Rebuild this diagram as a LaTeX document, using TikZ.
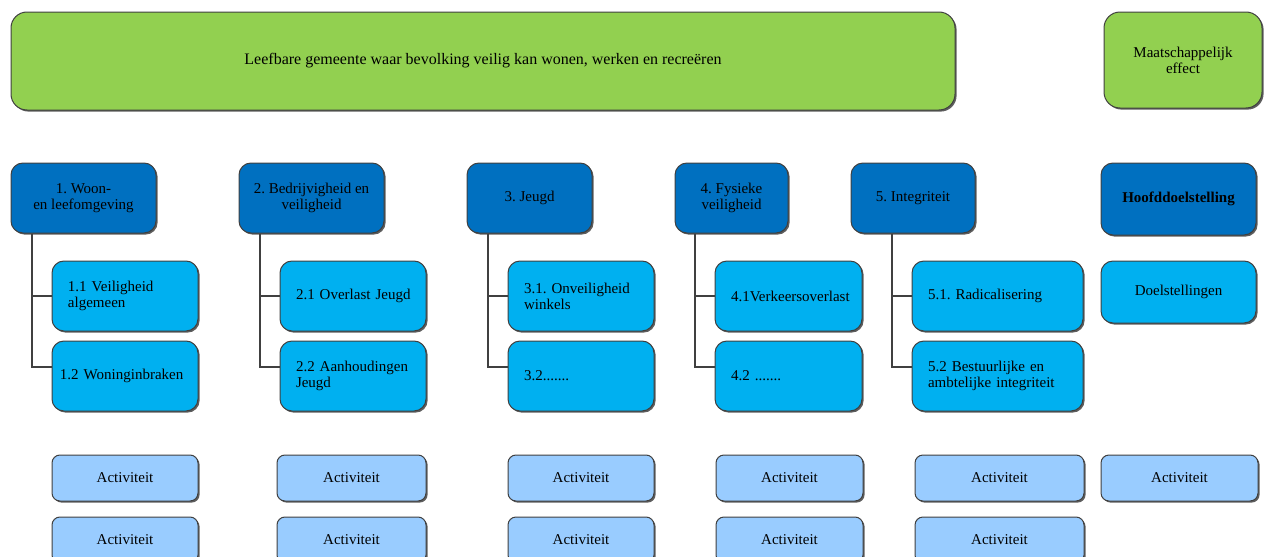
\documentclass[tikz,border=0pt]{standalone}
\usepackage{fontspec}
\setmainfont{Liberation Serif}
\frenchspacing
\usetikzlibrary{shadows}
\definecolor{effectgreen}{HTML}{92D050}
\definecolor{mainblue}{HTML}{0070C0}
\definecolor{subblue}{HTML}{00B0F0}
\definecolor{actblue}{HTML}{99CCFF}
\tikzset{
  box/.style={draw=black!75, line width=0.5pt, inner sep=0pt, font=\fontsize{7.5}{8}\selectfont,
    drop shadow={shadow xshift=0.8pt, shadow yshift=-0.8pt, fill=black!70, opacity=0.9}},
  goalbox/.style={box, fill=effectgreen, rounded corners=8pt, align=center},
  mainbox/.style={box, fill=mainblue, rounded corners=6pt, minimum height=35pt, align=center},
  subbox/.style={box, fill=subblue, rounded corners=6pt, minimum height=35pt, align=left, inner xsep=8pt},
  actbox/.style={box, fill=actblue, rounded corners=4pt, minimum height=23pt, align=center},
  conn/.style={draw=black!75, line width=1pt}
}
\begin{document}
\begin{tikzpicture}[x=0.5pt,y=-0.5pt]
	%%%%% START %%%%%
	\useasboundingbox (0,0) rectangle (1270,557);
	\clip (0,0) rectangle (1270,557);
	
	% effect
	\node[goalbox, minimum width=472pt, minimum height=49pt, font=\fontsize{8}{9}\selectfont] (effect) at (483,61) {Leefbare gemeente waar bevolking veilig kan wonen, werken en recre\"eren};
	\node[goalbox, minimum width=79pt, minimum height=48pt] (effectkey) at (1183,60) {Maatschappelijk\\effect};
	
	% hoofddoelstellingen
	\node[mainbox, minimum width=72.5pt] (m1) at (83.5,198) {1. Woon-\\en leefomgeving};
	\node[mainbox, minimum width=72.5pt] (m2) at (311.5,198) {2. Bedrijvigheid en\\veiligheid};
	\node[mainbox, minimum width=62.5pt] (m3) at (529.5,198) {3. Jeugd};
	\node[mainbox, minimum width=56.5pt] (m4) at (731.5,198) {4. Fysieke\\veiligheid};
	\node[mainbox, minimum width=62pt] (m5) at (913,198) {5. Integriteit};
	\node[mainbox, minimum width=77.5pt, minimum height=36pt, font=\fontsize{7.5}{8}\selectfont\bfseries] (mainkey) at (1178.5,199) {Hoofddoelstelling};
	
	% doelstellingen
	\node[subbox, text width=57pt] (s11) at (125,296) {1.1 Veiligheid\\algemeen};
	\node[subbox, text width=65pt, inner xsep=4pt] (s12) at (125,376) {1.2 Woninginbraken};
	\node[subbox, text width=57pt] (s21) at (353,296) {\mbox{2.1 Overlast Jeugd}};
	\node[subbox, text width=57pt] (s22) at (353,376) {2.2 Aanhoudingen\\Jeugd};
	\node[subbox, text width=57pt] (s31) at (581,296) {3.1. Onveiligheid\\winkels};
	\node[subbox, text width=57pt] (s32) at (581,376) {3.2.......};
	\node[subbox, text width=57.5pt] (s41) at (788.5,296) {4.1Verkeersoverlast};
	\node[subbox, text width=57.5pt] (s42) at (788.5,376) {4.2 .......};
	\node[subbox, text width=69.5pt] (s51) at (997.5,296) {5.1. Radicalisering};
	\node[subbox, text width=69.5pt] (s52) at (997.5,376) {5.2 Bestuurlijke en\\ambtelijke integriteit};
	\node[subbox, align=center, inner xsep=0pt, minimum width=77.5pt, minimum height=31pt] (subkey) at (1178.5,292) {Doelstellingen};
	
	% lijnen
	\foreach \i in {1,...,5} {
		\coordinate (t\i) at ([xshift=-10pt]s\i1.west |- m\i.south);
		\draw[conn] (t\i) |- (s\i1.west);
		\draw[conn] (t\i) |- ([yshift=4.5pt]s\i2.west);
	}
	
	% activiteiten
	\node[actbox, minimum width=73pt] (a11) at (125,478) {Activiteit};
	\node[actbox, minimum width=73pt] (a12) at (125,540) {Activiteit};
	\node[actbox, minimum width=74.5pt] (a21) at (351.5,478) {Activiteit};
	\node[actbox, minimum width=74.5pt] (a22) at (351.5,540) {Activiteit};
	\node[actbox, minimum width=73pt] (a31) at (581,478) {Activiteit};
	\node[actbox, minimum width=73pt] (a32) at (581,540) {Activiteit};
	\node[actbox, minimum width=73.5pt] (a41) at (789.5,478) {Activiteit};
	\node[actbox, minimum width=73.5pt] (a42) at (789.5,540) {Activiteit};
	\node[actbox, minimum width=84.5pt] (a51) at (999.5,478) {Activiteit};
	\node[actbox, minimum width=84.5pt] (a52) at (999.5,540) {Activiteit};
	\node[actbox, minimum width=78.5pt] (actkey) at (1179.5,478) {Activiteit};
	
	%%%%% END %%%%%
\end{tikzpicture}
\end{document}
